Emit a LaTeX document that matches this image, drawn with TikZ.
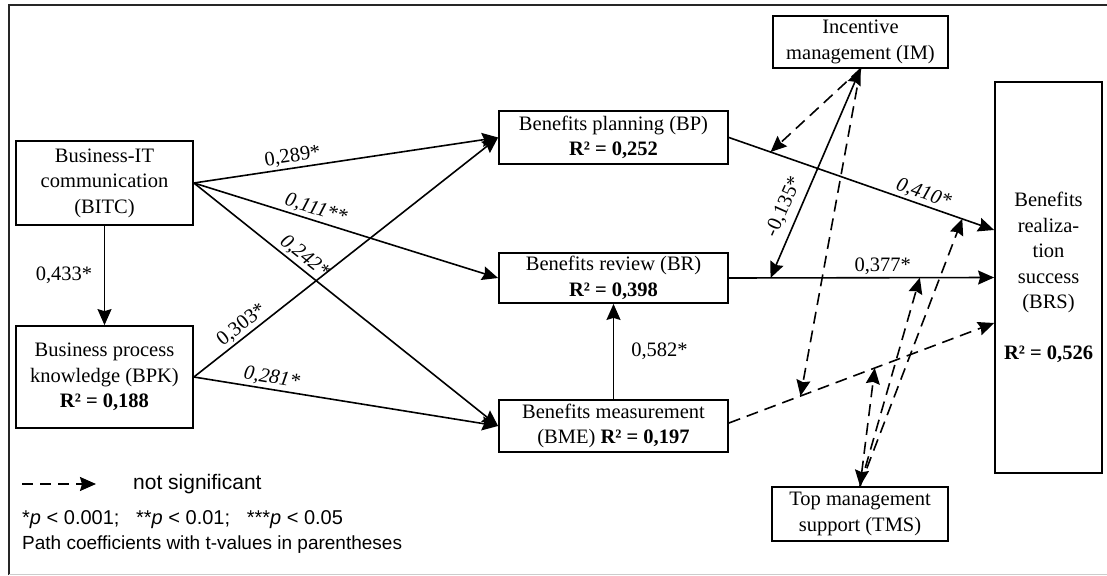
\documentclass[tikz,border=0pt]{standalone}
\usepackage{fontspec}
\setmainfont{Liberation Serif}
\setsansfont{Liberation Sans}
\usetikzlibrary{arrows.meta,calc}
\begin{document}
\begin{tikzpicture}[x=1pt,y=-1pt,
  >={Stealth[length=16pt,width=14pt,inset=2pt]},
  box/.style={draw, line width=1.8pt, inner sep=0pt, align=center,
    font=\fontsize{20.5}{25.5}\selectfont},
  link/.style={line width=1.6pt, ->},
  ns/.style={link, dash pattern=on 12pt off 7pt},
  coef/.style={font=\fontsize{20.5}{24}\selectfont, inner sep=2pt},
  legend/.style={font=\sffamily\fontsize{21}{25}\selectfont, inner sep=0pt}
]
\useasboundingbox (0,0) rectangle (1107,575);

% outer frame
\draw[line width=1.6pt, black!85] (9,575) -- (9,5) -- (1107,5);
\draw[line width=1pt, black!20] (9,574) -- (1107,574);

% constructs
\node[box, minimum width=177pt, minimum height=84pt]  (BITC) at (104.5,183) {Business-IT\\communication\\(BITC)};
\node[box, minimum width=177pt, minimum height=102pt] (BPK)  at (104.5,377) {Business process\\knowledge (BPK)\\\textbf{R² = 0,188}};
\node[box, minimum width=229pt, minimum height=53pt]  (BP)   at (613.5,137.5) {Benefits planning (BP)\\\textbf{R² = 0,252}};
\node[box, minimum width=229pt, minimum height=50pt]  (BR)   at (613.5,278) {Benefits review (BR)\\\textbf{R² = 0,398}};
\node[box, minimum width=229pt, minimum height=52pt]  (BME)  at (613.5,426) {Benefits measurement\\(BME) \textbf{R² = 0,197}};
\node[box, minimum width=175pt, minimum height=52pt]  (IM)   at (860.5,42) {Incentive\\management (IM)};
\node[box, minimum width=176pt, minimum height=54pt]  (TMS)  at (860,514) {Top management\\support (TMS)};
\node[box, minimum width=107pt, minimum height=391pt] (BRS)  at (1048.5,277.5) {Benefits\\realiza-\\tion\\success\\(BRS)\\[25.5pt]\textbf{R² = 0,526}};

% end points on the outcome box
\coordinate (pA) at ($(BRS.west)+(0,-47.5)$);
\coordinate (pC) at ($(BRS.west)+(0,45.5)$);
\coordinate (bmeE) at ($(BME.east)+(0,-3)$);

% structural paths
\draw[link] (BITC.south) -- node[coef, left=9.5pt] {0,433*} (BPK.north);
\draw[link] (BITC.east) -- node[coef, pos=0.33, above, sloped] {0,289*} (BP.west);
\draw[link] (BITC.east) -- node[coef, pos=0.39, above, sloped] {\textit{0,111**}} (BR.west);
\draw[link] (BITC.east) -- node[coef, pos=0.34, above, sloped] {\textit{0,242*}} (BME.west);
\draw[link] (BPK.east) -- node[coef, pos=0.18, above, sloped] {0,303*} (BP.west);
\draw[link] (BPK.east) -- node[coef, pos=0.25, above, sloped] {\textit{0,281*}} (BME.west);
\draw[link] (BME.north) -- node[coef, right=15pt] {0,582*} (BR.south);
\draw[link] (BP.east) -- node[coef, pos=0.72, above, sloped] {\textit{0,410*}} (pA);
\draw[link] (BR.east) -- node[coef, pos=0.58, above] {0,377*} (BRS.west);
\draw[ns] (bmeE) -- (pC);

% moderation targets on the paths
\coordinate (m1) at ($(BP.east)!0.157!(pA)$);
\coordinate (m2) at ($(BR.east)!0.157!(BRS.west)$);
\coordinate (m3) at ($(bmeE)!0.27!(pC)$);
\coordinate (t1) at ($(bmeE)!0.55!(pC)$);
\coordinate (t2) at ($(BR.east)!0.72!(BRS.west)$);
\coordinate (t3) at ($(BP.east)!0.88!(pA)$);

% moderating effects
\draw[ns] (IM.south) -- (m1);
\draw[link, <->] (IM.south) -- (m2);
\node[coef, rotate=66] (imbr) at (784,207) {-0,135*};
\draw[ns] (IM.south) -- (m3);
\draw[ns, <->] (TMS.north) -- (t1);
\draw[ns] (TMS.north) -- (t2);
\draw[ns] (TMS.north) -- (t3);

% legend
\coordinate (lgA) at (22,484);
\coordinate (lgB) at (96,484);
\draw[line width=1.6pt, dash pattern=on 11pt off 7pt, ->] (lgA) -- (lgB);
\node[legend, anchor=west] (nsig) at (133,484) {not significant};
\node[legend, anchor=west, align=left, font=\sffamily\fontsize{19}{25}\selectfont] (note) at (22,532)
  {{\fontsize{20}{25}\selectfont *\textit{p} < 0.001;~~~**\textit{p} < 0.01;~~~***\textit{p} < 0.05}\\Path coefficients with t-values in parentheses};
\end{tikzpicture}
\end{document}
